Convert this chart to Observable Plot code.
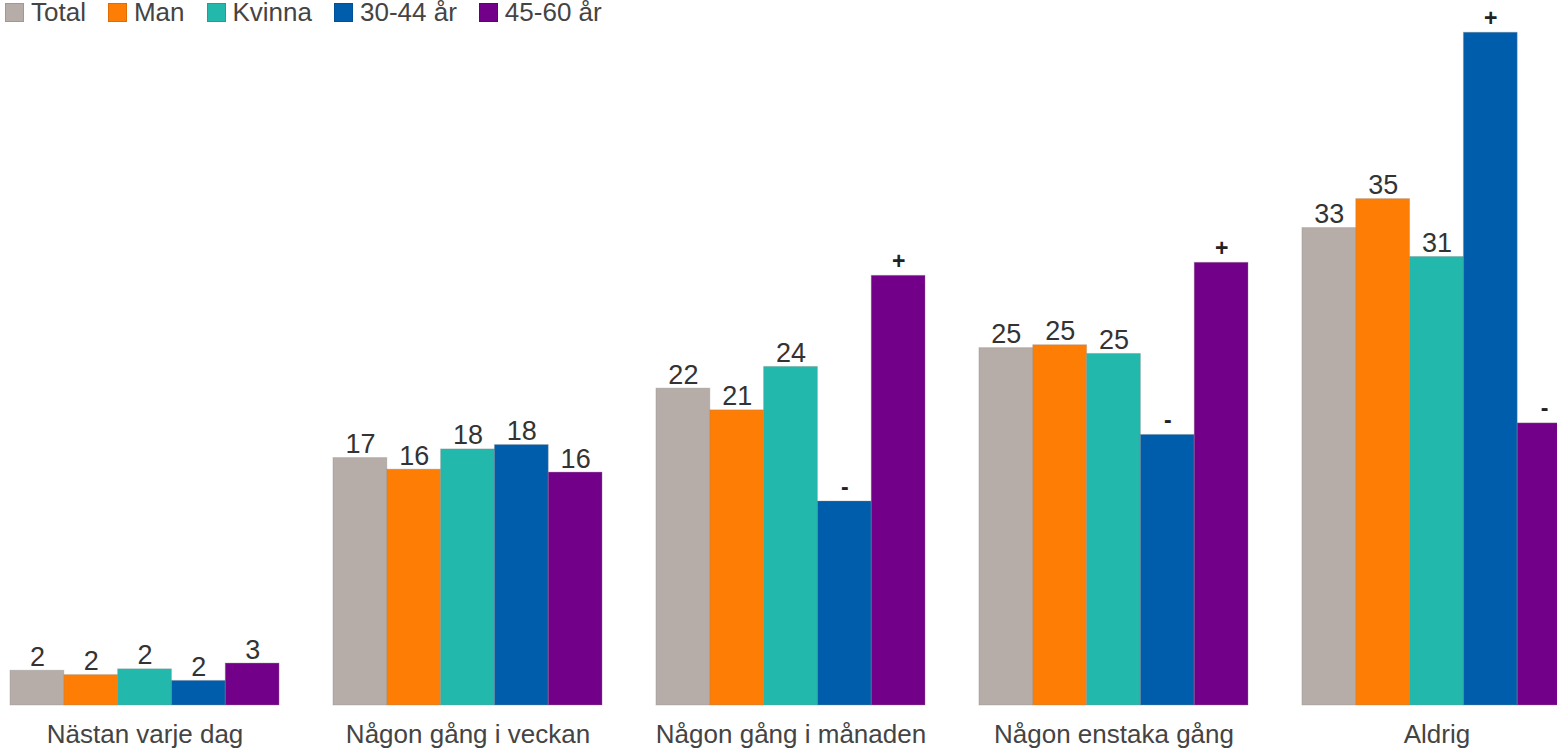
<!DOCTYPE html>
<html>
<head>
<meta charset="utf-8">
<script src="https://cdn.jsdelivr.net/npm/d3@7"></script>
<script src="https://cdn.jsdelivr.net/npm/@observablehq/plot@0.6"></script>
<style>
  html, body { margin: 0; padding: 0; background: #fff; overflow: hidden; }
  body { width: 1557px; height: 748px; position: relative; font-family: "Liberation Sans", Arial, sans-serif; }
  #legend { position: absolute; left: 5px; top: -3px; display: flex; align-items: center; font-size: 26px; line-height: 30px; color: #444; white-space: nowrap; }
  #legend .sw { display: inline-block; width: 19px; height: 19px; margin-right: 7px; box-sizing: border-box; border: 1px solid rgba(0,0,0,0.12); }
  #legend .lb { margin-right: 22px; }
  #chart { position: absolute; left: 0; top: 18px; }
</style>
</head>
<body>
<div id="legend"></div>
<div id="chart"></div>
<script>
const categories = ["Nästan varje dag", "Någon gång i veckan", "Någon gång i månaden", "Någon enstaka gång", "Aldrig"];
const series = ["Total", "Man", "Kvinna", "30-44 år", "45-60 år"];
const colors = ["#b6ada8", "#fd7d05", "#22b8ac", "#005dab", "#720088"];

const totalValues  = [2.4, 17.1, 21.9, 24.7, 33.0];
const manValues    = [2.1, 16.3, 20.4, 24.9, 35.0];
const kvinnaValues = [2.5, 17.7, 23.4, 24.3, 31.0];
const age3044Values = [1.7, 18.0, 14.1, 18.7, 46.5];
const age4560Values = [2.9, 16.1, 29.7, 30.6, 19.5];

const totalLabels  = ["2", "17", "22", "25", "33"];
const manLabels    = ["2", "16", "21", "25", "35"];
const kvinnaLabels = ["2", "18", "24", "25", "31"];
const age3044Labels = ["2", "18", "-", "-", "+"];
const age4560Labels = ["3", "16", "+", "+", "-"];

const valueSets = [totalValues, manValues, kvinnaValues, age3044Values, age4560Values];
const labelSets = [totalLabels, manLabels, kvinnaLabels, age3044Labels, age4560Labels];

const data = [];
categories.forEach((c, i) => {
  series.forEach((s, j) => {
    data.push({category: c, series: s, value: valueSets[j][i], label: labelSets[j][i]});
  });
});
const numData = data.filter(d => d.label !== "+" && d.label !== "-");
const signData = data.filter(d => d.label === "+" || d.label === "-");

// legend
const legend = document.getElementById("legend");
series.forEach((s, j) => {
  const sw = document.createElement("span");
  sw.className = "sw";
  sw.style.background = colors[j];
  const lb = document.createElement("span");
  lb.className = "lb";
  lb.textContent = s;
  legend.appendChild(sw);
  legend.appendChild(lb);
});

const chart = Plot.plot({
  width: 1557,
  height: 730,
  marginLeft: 10,
  marginRight: -14,
  marginTop: 7,
  marginBottom: 43,
  style: {fontFamily: "'Liberation Sans', Arial, sans-serif", color: "#444", background: "transparent", overflow: "visible"},
  fx: {domain: categories, paddingInner: 0.167, paddingOuter: 0, round: false},
  x: {domain: series, padding: 0, round: false, axis: null},
  y: {domain: [0, 47], axis: null},
  color: {domain: series, range: colors},
  marks: [
    Plot.barY(data, {fx: "category", x: "series", y: "value", fill: "series", stroke: "#8a8a8a", strokeOpacity: 0.35, strokeWidth: 1}),
    Plot.text(numData, {fx: "category", x: "series", y: "value", text: "label", lineAnchor: "bottom", dy: -5, fontSize: 27, fill: "#333"}),
    Plot.text(signData, {fx: "category", x: "series", y: "value", text: "label", lineAnchor: "bottom", dy: -7, fontSize: 23, fontWeight: "bold", fill: "#222"}),
    Plot.axisFx({anchor: "bottom", tickSize: 0, tickPadding: 19, fontSize: 26, label: null})
  ]
});
document.getElementById("chart").appendChild(chart);
</script>
</body>
</html>
